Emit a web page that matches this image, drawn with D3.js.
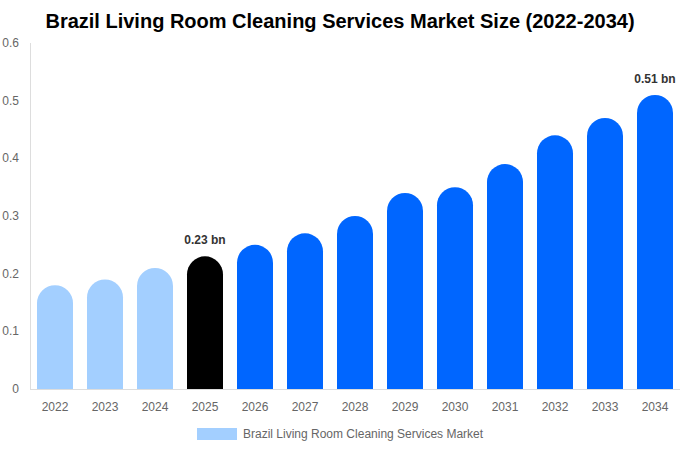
<!DOCTYPE html>
<html>
<head>
<meta charset="utf-8">
<script src="https://cdn.jsdelivr.net/npm/d3@7"></script>
<style>
  body { margin: 0; background: #fff; }
  text { font-family: "Liberation Sans", Arial, sans-serif; }
</style>
</head>
<body>
<svg id="chart" width="680" height="450"></svg>
<script>
// market size in bn
years = ["2022","2023","2024","2025","2026","2027","2028","2029","2030","2031","2032","2033","2034"];
values = [0.18, 0.19, 0.21, 0.23, 0.25, 0.27, 0.30, 0.34, 0.35, 0.39, 0.44, 0.47, 0.51];
yTicks = [0, 0.1, 0.2, 0.3, 0.4, 0.5, 0.6];
labelled = ["2025", "2034"];

var svg = d3.select("#chart");
// note: "top" is taken by window.top, so use plot* names
var plotLeft = 30, plotRight = 680, plotTop = 43, plotBottom = 389;

var x = d3.scaleBand().domain(years).range([plotLeft, plotRight]).paddingInner(0.28).paddingOuter(0.14);
var y = d3.scaleLinear().domain([0, 0.6]).range([plotBottom, plotTop]);

function barColour(yr) {
  if (+yr < 2025) return "#a3cfff";
  if (+yr === 2025) return "#000000";
  return "#0066ff";
}

// rounded top bar
function barPath(yr, v) {
  var x0 = x(yr), w = x.bandwidth(), r = w / 2;
  var yt = y(v), yb = y(0);
  return "M" + x0 + "," + yb +
         "V" + (yt + r) +
         "A" + r + "," + r + " 0 0 1 " + (x0 + w) + "," + (yt + r) +
         "V" + yb + "Z";
}

svg.append("text")
  .attr("x", 340).attr("y", 28)
  .attr("text-anchor", "middle")
  .attr("font-size", 20).attr("font-weight", "bold").attr("fill", "#000")
  .text("Brazil Living Room Cleaning Services Market Size (2022-2034)");

// y axis
svg.append("line")
  .attr("x1", plotLeft + 0.5).attr("x2", plotLeft + 0.5)
  .attr("y1", plotTop).attr("y2", plotBottom)
  .attr("stroke", "#ddd");

svg.selectAll(".ytick")
  .data(yTicks)
  .enter()
  .append("text")
  .attr("class", "ytick")
  .attr("x", 19).attr("y", function(d) { return y(d) + 4; })
  .attr("text-anchor", "end")
  .attr("font-size", 12).attr("fill", "#666")
  .text(function(d) { return d === 0 ? "0" : d3.format(".1f")(d); });

svg.selectAll(".bar")
  .data(years)
  .enter()
  .append("path")
  .attr("class", "bar")
  .attr("d", function(d, i) { return barPath(d, values[i]); })
  .attr("fill", function(d) { return barColour(d); });

// x axis
svg.append("line")
  .attr("x1", plotLeft).attr("x2", plotRight)
  .attr("y1", plotBottom + 0.5).attr("y2", plotBottom + 0.5)
  .attr("stroke", "#ddd");

svg.selectAll(".xtick")
  .data(years)
  .enter()
  .append("text")
  .attr("class", "xtick")
  .attr("x", function(d) { return x(d) + x.bandwidth() / 2; })
  .attr("y", 411)
  .attr("text-anchor", "middle")
  .attr("font-size", 12).attr("fill", "#666")
  .text(function(d) { return d; });

svg.selectAll(".vlabel")
  .data(years.filter(function(d) { return labelled.indexOf(d) >= 0; }))
  .enter()
  .append("text")
  .attr("class", "vlabel")
  .attr("x", function(d) { return x(d) + x.bandwidth() / 2; })
  .attr("y", function(d) { return y(values[years.indexOf(d)]) - 12; })
  .attr("text-anchor", "middle")
  .attr("font-size", 12).attr("font-weight", "bold").attr("fill", "#333")
  .text(function(d) { return values[years.indexOf(d)] + " bn"; });

// legend
svg.append("rect")
  .attr("x", 197).attr("y", 428).attr("width", 40).attr("height", 12)
  .attr("fill", "#a3cfff");
svg.append("text")
  .attr("x", 243).attr("y", 438)
  .attr("font-size", 12).attr("fill", "#666")
  .text("Brazil Living Room Cleaning Services Market");
</script>
</body>
</html>
